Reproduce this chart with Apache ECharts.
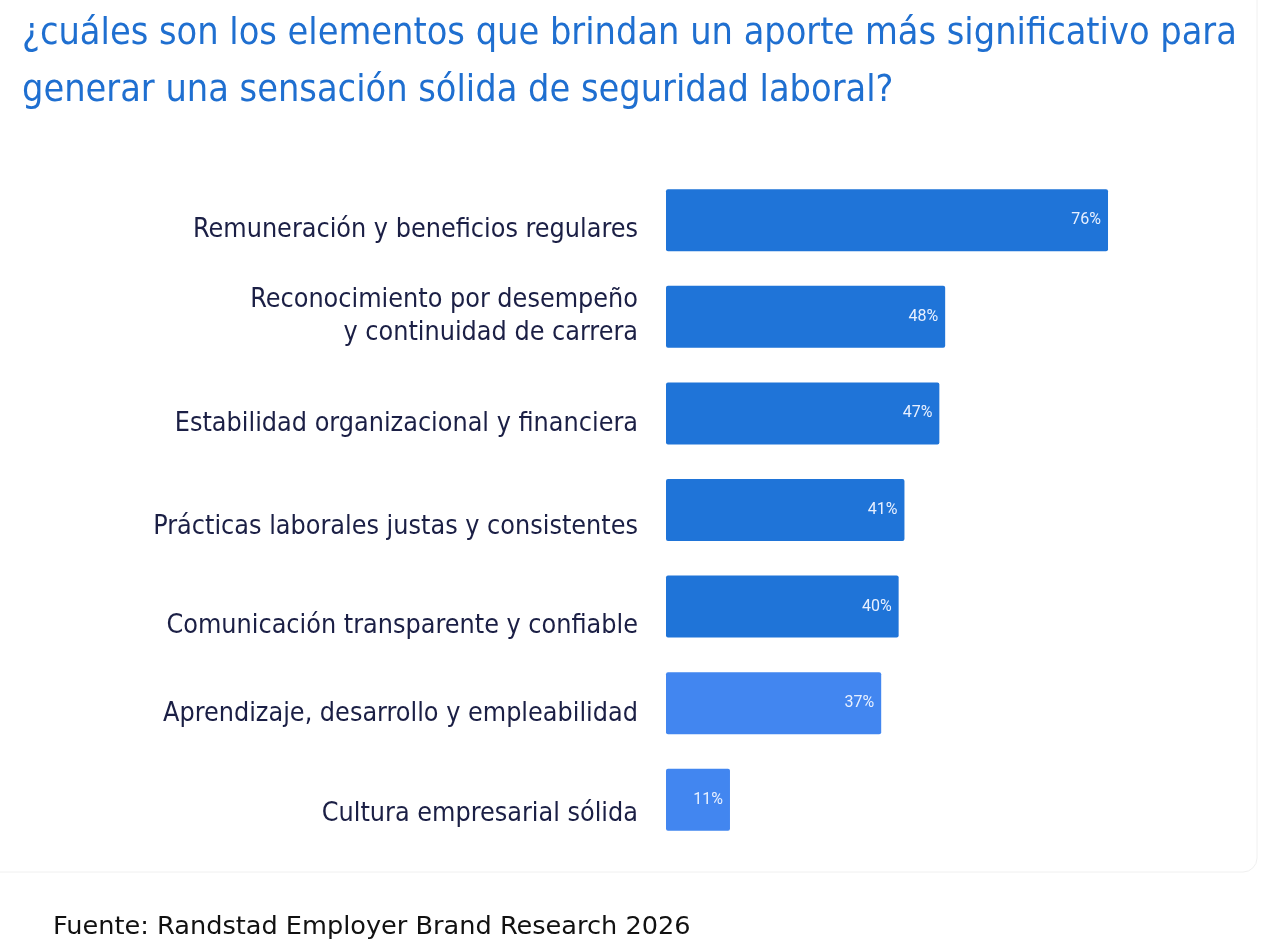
<!DOCTYPE html>
<html>
<head>
<meta charset="utf-8">
<script src="https://cdn.jsdelivr.net/npm/echarts@6/dist/echarts.min.js"></script>
<style>
  html, body { margin: 0; padding: 0; background: #ffffff; }
  #chart { width: 1280px; height: 952px; }
</style>
</head>
<body>
<div id="chart"></div>
<script>
var categories = [
    'Remuneración y beneficios regulares',
    'Reconocimiento por desempeño\ny continuidad de carrera',
    'Estabilidad organizacional y financiera',
    'Prácticas laborales justas y consistentes',
    'Comunicación transparente y confiable',
    'Aprendizaje, desarrollo y empleabilidad',
    'Cultura empresarial sólida'
];
var values = [76, 48, 47, 41, 40, 37, 11];
var barColors = ['#1f74d8', '#1f74d8', '#1f74d8', '#1f74d8', '#1f74d8', '#4286f0', '#4286f0'];

var titleText = '¿cuáles son los elementos que brindan un aporte más significativo para\ngenerar una sensación sólida de seguridad laboral?';
var sourceText = 'Fuente: Randstad Employer Brand Research 2026';

// the labels in the original sit a little below their bars, not evenly
var labelShift = [10, 0, 11, 17, 19, 11, 14];

var myChart = echarts.init(document.getElementById('chart'));

var barData = [];
for (var i = 0; i < values.length; i++) {
    barData.push({ value: values[i], itemStyle: { color: barColors[i] } });
}
var labelRich = {};
for (var j = 0; j < labelShift.length; j++) {
    labelRich['s' + j] = {
        fontFamily: 'DejaVu Sans Condensed',
        fontSize: 26.7,
        color: '#1b1f45',
        padding: [2 * labelShift[j], 0, 0, 0]
    };
}

option = {
    backgroundColor: '#ffffff',
    animation: false,
    title: {
        text: titleText,
        left: 17,
        top: 1,
        textStyle: {
            fontFamily: 'DejaVu Sans Condensed',
            fontSize: 37.5,
            fontWeight: 'normal',
            color: '#1f6fd0',
            lineHeight: 57
        }
    },
    graphic: [
        {
            // faint card edge
            type: 'rect',
            silent: true,
            z: -1,
            shape: { x: -20, y: -20, width: 1277, height: 892, r: 14 },
            style: { fill: '#ffffff', stroke: '#f0f0f0', lineWidth: 1 }
        },
        {
            type: 'text',
            x: 53,
            y: 927,
            style: {
                text: sourceText,
                font: '25.6px "DejaVu Sans"',
                fill: '#111111',
                verticalAlign: 'middle'
            }
        }
    ],
    grid: {
        left: 666,
        top: 172,
        width: 581.6,
        height: 676,
        containLabel: false
    },
    xAxis: {
        type: 'value',
        min: 0,
        max: 100,
        show: false
    },
    yAxis: {
        type: 'category',
        inverse: true,
        data: categories,
        axisLine: { show: false },
        axisTick: { show: false },
        axisLabel: {
            margin: 28,
            align: 'right',
            fontFamily: 'DejaVu Sans Condensed',
            fontSize: 26.7,
            lineHeight: 33,
            color: '#1b1f45',
            formatter: function (value, idx) {
                if (value.indexOf('\n') >= 0) return value;
                return '{s' + idx + '|' + value + '}';
            },
            rich: labelRich
        }
    },
    series: [{
        type: 'bar',
        barWidth: 62,
        data: barData,
        itemStyle: { borderRadius: 2 },
        label: {
            show: true,
            position: 'insideRight',
            distance: 7,
            formatter: '{c}%',
            fontFamily: 'Roboto',
            fontSize: 16,
            color: '#e8f0ff'
        }
    }]
};

myChart.setOption(option);
</script>
</body>
</html>
